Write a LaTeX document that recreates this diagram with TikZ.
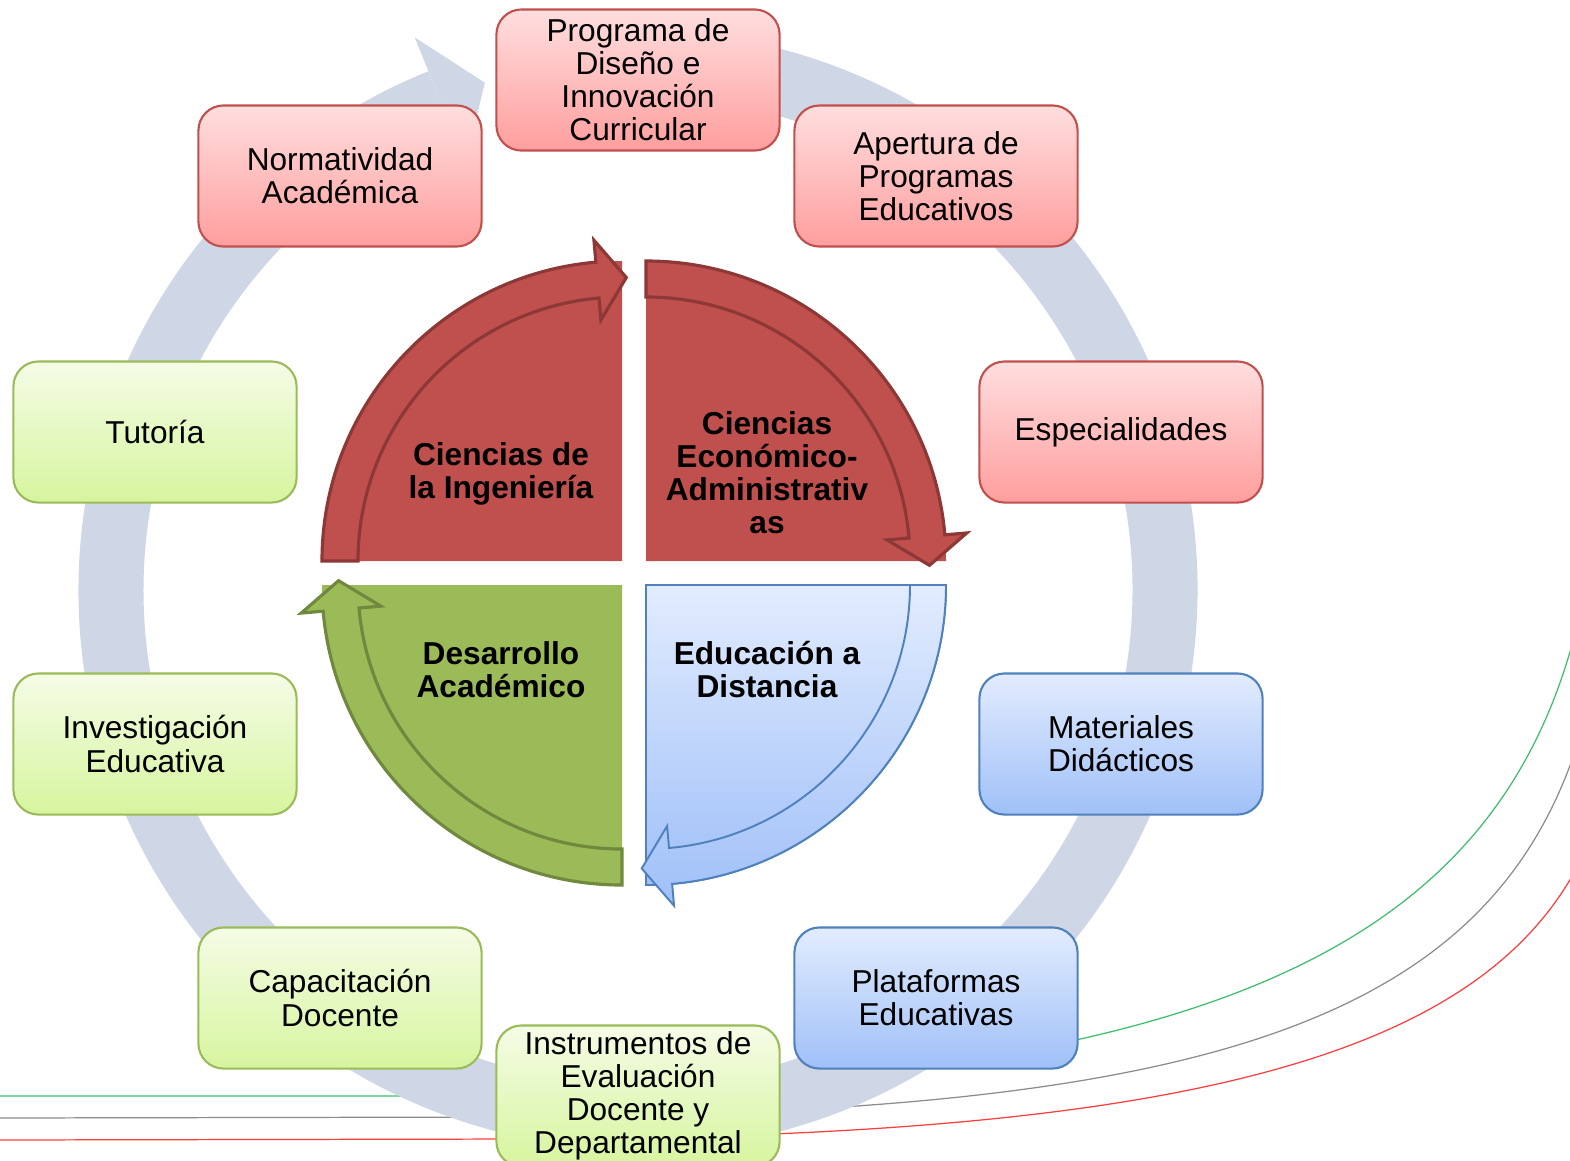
\documentclass[tikz,border=0pt]{standalone}
\usepackage{fontspec}
\setmainfont{Liberation Sans}
\definecolor{ringc}{HTML}{CFD6E6}
\definecolor{redtop}{HTML}{FFDEDE}
\definecolor{redbot}{HTML}{FF9E9E}
\definecolor{redbd}{HTML}{C0504D}
\definecolor{grntop}{HTML}{F5FCE6}
\definecolor{grnbot}{HTML}{D6F59E}
\definecolor{grnbd}{HTML}{9BBB59}
\definecolor{blutop}{HTML}{E2ECFE}
\definecolor{blubot}{HTML}{A0C0F8}
\definecolor{blubd}{HTML}{4F81BD}
\definecolor{qred}{HTML}{C0504D}
\definecolor{qredd}{HTML}{8C3836}
\definecolor{qgrn}{HTML}{9BBB59}
\definecolor{qgrnd}{HTML}{71893E}
\definecolor{lgreen}{RGB}{60,190,110}
\definecolor{lgrey}{RGB}{140,140,140}
\definecolor{lred}{RGB}{255,60,60}
\tikzset{
  box/.style={rounded corners=0.25cm, minimum width=2.83cm, minimum height=1.41cm,
    align=center, line width=0.6pt, inner sep=0pt, font=\fontsize{9}{9.4}\selectfont},
  redbox/.style={box, draw=redbd, top color=redtop, bottom color=redbot},
  grnbox/.style={box, draw=grnbd, top color=grntop, bottom color=grnbot},
  blubox/.style={box, draw=blubd, top color=blutop, bottom color=blubot},
  qlabel/.style={align=center, inner sep=0pt, font=\bfseries\fontsize{9}{9.4}\selectfont},
  deco/.style={line width=0.35pt},
  bandred/.style={fill=qred, draw=qredd, line width=0.9pt, line join=miter},
  bandgrn/.style={fill=qgrn, draw=qgrnd, line width=0.9pt, line join=miter},
  bandblu/.style={top color=blutop, bottom color=blubot, draw=blubd, line width=0.55pt, line join=miter},
}
\begin{document}
\begin{tikzpicture}[x=0.01cm, y=0.01cm]
\useasboundingbox (0,0) rectangle (1570,-1160);
\clip (0,0) rectangle (1570,-1160);
\fill[white] (0,0) rectangle (1570,-1160);

% decorative lines
\draw[deco, lgreen] (-10,-1096) -- (420,-1096) .. controls (1180,-1092) and (1490,-965) .. (1576,-630);
\draw[deco, lgrey] (-10,-1118) -- (520,-1117) .. controls (1220,-1114) and (1505,-1020) .. (1586,-715);
\draw[deco, lred] (-10,-1140) -- (520,-1139) .. controls (1230,-1138) and (1515,-1045) .. (1596,-825);

% big ring with arrow
\begin{scope}[shift={(638,-590)}]
  \draw[ringc, line width=0.65cm] (85:527) arc[start angle=85, end angle=-248, radius=527];
  \fill[ringc] (112:596) -- (106.8:530) -- (112:460) -- cycle;
\end{scope}

% boxes
\node[redbox] (prog) at (638,-80) {Programa de\\Diseño e\\Innovación\\Curricular};
\node[redbox] (aper) at (936,-176) {Apertura de\\Programas\\Educativos};
\node[redbox] (norm) at (340,-176) {Normatividad\\Académica};
\node[redbox] (espe) at (1121,-432) {Especialidades};
\node[grnbox] (tuto) at (155,-432) {Tutoría};
\node[blubox] (mate) at (1121,-744) {Materiales\\Didácticos};
\node[grnbox] (inve) at (155,-744) {Investigación\\Educativa};
\node[blubox] (plat) at (936,-998) {Plataformas\\Educativas};
\node[grnbox] (capa) at (340,-998) {Capacitación\\Docente};
\node[grnbox] (inst) at (638,-1096) {Instrumentos de\\Evaluación\\Docente y\\Departamental};

% top-left quadrant
\begin{scope}[shift={(622,-561)}]
  \fill[qred] (0,0) -- (180:300) arc[start angle=180, end angle=90, radius=300] -- cycle;
  \filldraw[bandred] (180:264) -- (180:300) arc[start angle=180, end angle=95, radius=300]
    -- (95:322) -- (89.13:283.5) -- (95:242) -- (95:264)
    arc[start angle=95, end angle=180, radius=264] -- cycle;
\end{scope}
% top-right quadrant
\begin{scope}[shift={(646,-561)}]
  \fill[qred] (0,0) -- (90:300) arc[start angle=90, end angle=0, radius=300] -- cycle;
  \filldraw[bandred] (90:264) -- (90:300) arc[start angle=90, end angle=5, radius=300]
    -- (5:322) -- (-0.87:283.5) -- (5:242) -- (5:264)
    arc[start angle=5, end angle=90, radius=264] -- cycle;
\end{scope}
% bottom-right quadrant
\begin{scope}[shift={(646,-585)}]
  \shadedraw[bandblu] (0,0) -- (0:300) arc[start angle=0, end angle=-90, radius=300] -- cycle;
  \shadedraw[bandblu] (0:264) -- (0:300) arc[start angle=0, end angle=-85, radius=300]
    -- (-85:322) -- (-90.87:283.5) -- (-85:242) -- (-85:264)
    arc[start angle=-85, end angle=0, radius=264] -- cycle;
\end{scope}
% bottom-left quadrant
\begin{scope}[shift={(622,-585)}]
  \fill[qgrn] (0,0) -- (270:300) arc[start angle=270, end angle=180, radius=300] -- cycle;
  \filldraw[bandgrn] (270:264) -- (270:300) arc[start angle=270, end angle=185, radius=300]
    -- (185:322) -- (179.13:283.5) -- (185:242) -- (185:264)
    arc[start angle=185, end angle=270, radius=264] -- cycle;
\end{scope}

\node[qlabel] (qtl) at (501,-474) {Ciencias de\\la Ingeniería};
\node[qlabel] (qtr) at (767,-473) {Ciencias\\Económico-\\Administrativ\\as};
\node[qlabel] (qbl) at (501,-670) {Desarrollo\\Académico};
\node[qlabel] (qbr) at (767,-670) {Educación a\\Distancia};
\end{tikzpicture}
\end{document}
